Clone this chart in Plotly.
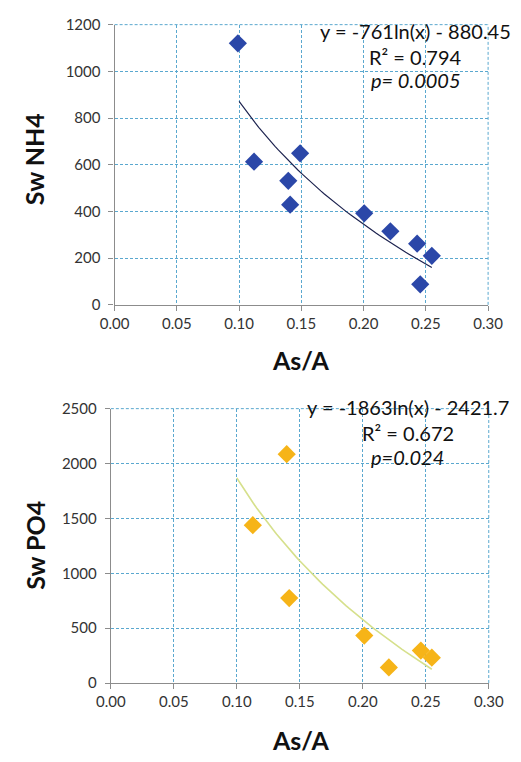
import numpy as np
import plotly.graph_objects as go

W, H = 521, 762

# ---- data ----
nh4_x = [0.099, 0.112, 0.149, 0.1395, 0.141, 0.2005, 0.2215, 0.243, 0.2548, 0.2455]
nh4_y = [1120, 613, 649, 531, 429, 392, 315, 262, 210, 88]
nh4_coef = (-761, -880.45)
nh4_text = ["y = -761ln(x) - 880.45", "R² = 0.794", "<i>p= 0.0005</i>"]

po4_x = [0.1396, 0.1127, 0.1416, 0.2012, 0.2207, 0.2461, 0.2548]
po4_y = [2085, 1438, 774, 432, 142, 296, 231]
po4_coef = (-1863, -2421.7)
po4_text = ["y = -1863ln(x) - 2421.7", "R² = 0.672", "<i>p=0.024</i>"]

trend_start = 0.10
x_ticks = [0.00, 0.05, 0.10, 0.15, 0.20, 0.25, 0.30]

FONT = "Lato"
BLUE = "#2B47A8"
GOLD = "#F6B418"
GRID = "#5AA8CF"
AXIS = "#8C8C8C"
DASH = "3px,2px"

fig = go.Figure()

# top chart
fig.add_trace(go.Scatter(x=nh4_x, y=nh4_y, mode="markers", xaxis="x", yaxis="y",
                         marker=dict(symbol="diamond", size=14, color=BLUE), showlegend=False))
tx = np.linspace(trend_start, max(nh4_x), 60)
fig.add_trace(go.Scatter(x=tx, y=nh4_coef[0] * np.log(tx) + nh4_coef[1], mode="lines",
                         xaxis="x", yaxis="y", line=dict(color="#1E2450", width=1.2), showlegend=False))

# bottom chart
fig.add_trace(go.Scatter(x=po4_x, y=po4_y, mode="markers", xaxis="x2", yaxis="y2",
                         marker=dict(symbol="diamond", size=14, color=GOLD), showlegend=False))
tx2 = np.linspace(trend_start, max(po4_x), 60)
fig.add_trace(go.Scatter(x=tx2, y=po4_coef[0] * np.log(tx2) + po4_coef[1], mode="lines",
                         xaxis="x2", yaxis="y2", line=dict(color="#D6E08C", width=1.6), showlegend=False))


def xaxis(domain, anchor):
    return dict(domain=domain, anchor=anchor, range=[0, 0.3], tickvals=x_ticks,
                tickformat=".2f", showgrid=True, gridcolor=GRID, griddash=DASH, gridwidth=1,
                showline=True, linecolor=AXIS, linewidth=1.3, ticks="outside", ticklen=5,
                tickcolor=AXIS, zeroline=False, tickfont=dict(family=FONT, size=15, color="#333"),
                fixedrange=True)


def yaxis(domain, anchor, rng, dt):
    return dict(domain=domain, anchor=anchor, range=rng, dtick=dt, showgrid=True,
                gridcolor=GRID, griddash=DASH, gridwidth=1, showline=True, linecolor=AXIS,
                linewidth=1.3, ticks="outside", ticklen=5, tickcolor=AXIS, zeroline=False,
                ticklabelstandoff=5,
                tickfont=dict(family=FONT, size=15, color="#333"), fixedrange=True)


fig.update_layout(
    width=W, height=H, margin=dict(l=0, r=0, t=0, b=0),
    paper_bgcolor="white", plot_bgcolor="white",
    xaxis=xaxis([105.7 / W, 502 / W], "y"),
    yaxis=yaxis([1 - 302 / H, 1 - 15 / H], "x", [0, 1200], 200),
    xaxis2=xaxis([101.7 / W, 502.7 / W], "y2"),
    yaxis2=yaxis([1 - 689.3 / H, 1 - 408.3 / H], "x2", [0, 2500], 500),
)

# dashed top and right border gridlines
shapes = []
for xr, yr in [("x", "y"), ("x2", "y2")]:
    shapes.append(dict(type="line", xref=xr + " domain", yref=yr + " domain", x0=0, x1=1, y0=1, y1=1,
                       line=dict(color=GRID, width=1, dash=DASH), layer="below"))
    shapes.append(dict(type="line", xref=xr + " domain", yref=yr + " domain", x0=1, x1=1, y0=0, y1=1,
                       line=dict(color=GRID, width=1, dash=DASH), layer="below"))
fig.update_layout(shapes=shapes)

anns = []
# regression text
for i, t in enumerate(nh4_text):
    anns.append(dict(text=t, x=425 / W, y=1 - [22, 48, 72][i] / H, xref="paper", yref="paper",
                     showarrow=False, xanchor="center", yanchor="middle",
                     font=dict(family=FONT, size=20, color="#111")))
for i, t in enumerate(po4_text):
    anns.append(dict(text=t, x=417 / W, y=1 - [407, 433, 458][i] / H, xref="paper", yref="paper",
                     showarrow=False, xanchor="center", yanchor="middle",
                     font=dict(family=FONT, size=20, color="#111")))
# axis titles
for txt, x, y, ang in [("Sw NH4", 21, 153, -90), ("As/A", 303, 358, 0),
                       ("Sw PO4", 21, 548, -90), ("As/A", 303, 748, 0)]:
    anns.append(dict(text="<b>" + txt + "</b>", x=x / W, y=1 - y / H, xref="paper", yref="paper",
                     showarrow=False, xanchor="center", yanchor="middle", textangle=ang,
                     font=dict(family=FONT, size=25, color="#111")))
fig.update_layout(annotations=anns)

fig.write_html("out.html")
